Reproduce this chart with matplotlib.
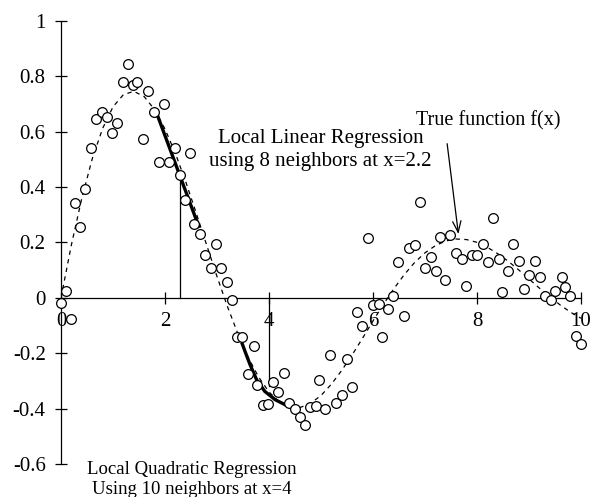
import numpy as np
import matplotlib
matplotlib.use("Agg")
import matplotlib.pyplot as plt

plt.rcParams["font.family"] = ["Liberation Serif", "DejaVu Serif"]
plt.rcParams["axes.unicode_minus"] = False

# noisy samples
sample_x = [0.00, 0.09, 0.19, 0.26, 0.36, 0.46, 0.58, 0.67, 0.78, 0.88,
            0.99, 1.08, 1.19, 1.29, 1.39, 1.47, 1.57, 1.68, 1.78, 1.88,
            1.98, 2.08, 2.19, 2.29, 2.39, 2.49, 2.55, 2.67, 2.77, 2.88,
            2.98, 3.08, 3.19, 3.29, 3.39, 3.49, 3.59, 3.71, 3.77, 3.88,
            3.98, 4.08, 4.18, 4.28, 4.39, 4.50, 4.60, 4.70, 4.79, 4.90,
            4.97, 5.08, 5.18, 5.29, 5.40, 5.50, 5.60, 5.70, 5.78, 5.91,
            6.01, 6.12, 6.18, 6.29, 6.39, 6.49, 6.60, 6.69, 6.80, 6.90,
            7.01, 7.11, 7.22, 7.28, 7.38, 7.49, 7.60, 7.71, 7.78, 7.90,
            8.01, 8.11, 8.22, 8.31, 8.42, 8.49, 8.60, 8.69, 8.80, 8.90,
            9.00, 9.11, 9.21, 9.31, 9.42, 9.51, 9.63, 9.70, 9.79, 9.90,
            10.01]
sample_y = [-0.020, 0.025, -0.077, 0.341, 0.257, 0.393, 0.542, 0.645, 0.670, 0.651,
            0.594, 0.632, 0.779, 0.844, 0.769, 0.778, 0.574, 0.747, 0.670, 0.489,
            0.698, 0.489, 0.542, 0.444, 0.353, 0.522, 0.265, 0.231, 0.154, 0.109,
            0.193, 0.109, 0.057, -0.008, -0.142, -0.142, -0.275, -0.173, -0.316, -0.387,
            -0.383, -0.303, -0.341, -0.270, -0.381, -0.401, -0.429, -0.458, -0.395, -0.389,
            -0.298, -0.401, -0.207, -0.380, -0.350, -0.221, -0.323, -0.053, -0.103, 0.217,
            -0.026, -0.021, -0.141, -0.039, 0.005, 0.130, -0.065, 0.178, 0.192, 0.347,
            0.109, 0.148, 0.096, 0.219, 0.065, 0.226, 0.161, 0.141, 0.044, 0.155,
            0.155, 0.195, 0.129, 0.289, 0.141, 0.019, 0.097, 0.195, 0.134, 0.031,
            0.083, 0.134, 0.075, 0.005, -0.007, 0.025, 0.076, 0.039, 0.005, -0.139,
            -0.168]

# true function f(x), tabulated every 0.2
true_x = [round(0.2 * i, 1) for i in range(51)]
true_y = [0.000, 0.191, 0.359, 0.501, 0.611, 0.689, 0.733, 0.745, 0.726, 0.679,
          0.609, 0.521, 0.418, 0.306, 0.191, 0.077, -0.031, -0.129, -0.215, -0.286,
          -0.340, -0.376, -0.395, -0.396, -0.381, -0.353, -0.312, -0.262, -0.206, -0.146,
          -0.084, -0.024, 0.032, 0.083, 0.127, 0.162, 0.188, 0.205, 0.212, 0.210,
          0.200, 0.182, 0.159, 0.132, 0.101, 0.068, 0.035, 0.004, -0.026, -0.052,
          -0.074]

# local fits
lin_x = [1.84, 2.66]
lin_y = [0.666, 0.252]
lin_at = 2.29
lin_at_y = 0.44

quad_x = [3.475, 3.55, 3.635, 3.76, 3.92, 4.12, 4.31, 4.45]
quad_y = [-0.161, -0.199, -0.241, -0.295, -0.338, -0.368, -0.386, -0.400]
quad_at = 4.0
quad_at_y = -0.32

fig = plt.figure(figsize=(5.94, 4.97), dpi=100)
ax = fig.add_axes([0.1027, 0.0664, 0.8753, 0.892])

ax.plot(true_x, true_y, color="black", linewidth=0.9, linestyle=(0, (3.5, 3.5)))
ax.plot(lin_x, lin_y, color="black", linewidth=2.4, solid_capstyle="butt")
ax.plot(quad_x, quad_y, color="black", linewidth=2.4, solid_capstyle="butt")
ax.plot([lin_at, lin_at], [0, lin_at_y], color="black", linewidth=0.9)
ax.plot([quad_at, quad_at], [0, quad_at_y], color="black", linewidth=0.9)
ax.plot(sample_x, sample_y, "o", markersize=7, markerfacecolor="white",
        markeredgecolor="black", markeredgewidth=0.9, zorder=5, clip_on=False)

ax.set_xlim(0, 10)
ax.set_ylim(-0.6, 1)
ax.spines["top"].set_visible(False)
ax.spines["right"].set_visible(False)
ax.spines["left"].set_position(("data", 0))
ax.spines["bottom"].set_position(("data", 0))
for s in ("left", "bottom"):
    ax.spines[s].set_linewidth(0.9)

ax.set_xticks([0, 2, 4, 6, 8, 10])
ax.set_xticklabels(["0", "2", "4", "6", "8", "10"])
ax.set_yticks([-0.6, -0.4, -0.2, 0, 0.2, 0.4, 0.6, 0.8, 1])
ax.set_yticklabels(["-0.6", "-0.4", "-0.2", "0", "0.2", "0.4", "0.6", "0.8", "1"])
ax.tick_params(direction="inout", length=8, width=0.9, labelsize=15)
ax.tick_params(axis="y", pad=7)
ax.tick_params(axis="x", pad=6)

ax.text(4.99, 0.573, "Local Linear Regression", ha="center", va="center", fontsize=15)
ax.text(4.99, 0.490, "using 8 neighbors at x=2.2", ha="center", va="center", fontsize=15)
ax.text(8.22, 0.64, "True function f(x)", ha="center", va="center", fontsize=14.5)
ax.annotate("", xy=(7.65, 0.22), xytext=(7.42, 0.566),
            arrowprops=dict(arrowstyle="->,head_length=0.8,head_width=0.3",
                            color="black", linewidth=0.9))
ax.text(2.52, -0.62, "Local Quadratic Regression", ha="center", va="center",
        fontsize=13.5, clip_on=False)
ax.text(2.52, -0.692, "Using 10 neighbors at x=4", ha="center", va="center",
        fontsize=13.5, clip_on=False)

fig.savefig("out.png", dpi=100)
